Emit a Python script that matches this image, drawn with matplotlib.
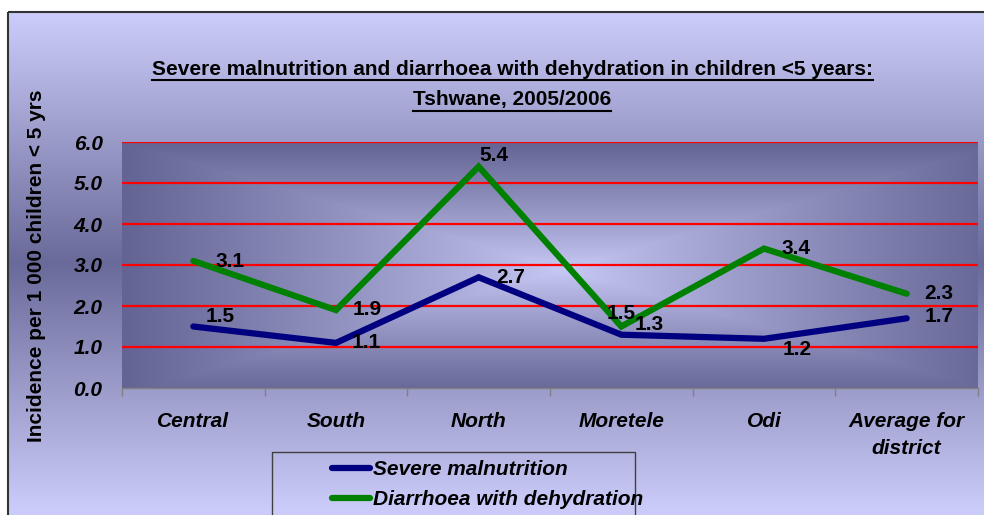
import numpy as np
import matplotlib
matplotlib.use("Agg")
import matplotlib.pyplot as plt
from matplotlib.patches import Rectangle
from matplotlib.lines import Line2D

plt.rcParams['font.family'] = ['Liberation Sans', 'DejaVu Sans']

categories = ["Central", "South", "North", "Moretele", "Odi", "Average for\ndistrict"]
malnutrition = [1.5, 1.1, 2.7, 1.3, 1.2, 1.7]
diarrhoea = [3.1, 1.9, 5.4, 1.5, 3.4, 2.3]
yticks = [0.0, 1.0, 2.0, 3.0, 4.0, 5.0, 6.0]

# label offsets in pixels (dx, dy) relative to each point
mal_offsets = [(27, 10), (30, 0), (32, 0), (28, 10), (33, -11), (32, 2)]
dia_offsets = [(37, -1), (31, 1), (15, 11), (0, 13), (32, 0), (32, 0)]

FS = 15

W, H = 984, 515
fig = plt.figure(figsize=(W / 100, H / 100), dpi=100)

# figure background: white outside the frame, vertical gradient inside
bg = fig.add_axes([0, 0, 1, 1], zorder=-5)
bg.set_xlim(0, W)
bg.set_ylim(H, 0)
bg.axis('off')
light = np.array([0xcb, 0xcb, 0xf9]) / 255
dark = np.array([0x6a, 0x6a, 0x9a]) / 255
ys = np.arange(H)
t = np.clip(np.abs(ys - 262) / 245.0, 0, 1)
col = dark[None, :] + (light - dark)[None, :] * t[:, None]
img = np.ones((H, W, 3))
img[:, :, :] = col[:, None, :]
img[:12, :, :] = 1.0
img[:, :8, :] = 1.0
bg.imshow(img, extent=(0, W, H, 0), aspect='auto', interpolation='bilinear')
bg.add_patch(Rectangle((8, 12), W, H, fill=False, edgecolor='#333333', linewidth=1.5))

# legend box
bg.add_patch(Rectangle((272, 452), 363, 80, fill=False, edgecolor='#404040', linewidth=1))

ax = fig.add_axes([122 / W, (H - 388) / H, 856 / W, 246 / H])
x = np.arange(len(categories))
ax.set_xlim(-0.5, len(categories) - 0.5)
ax.set_ylim(0, 6)

# plot area gradient: light centre, darker edges
gx, gy = np.meshgrid(np.linspace(-0.5, 5.5, 400), np.linspace(6, 0, 200))
d = np.maximum(np.abs(gx - 2.6) / 3.1, np.abs(gy - 2.9) / 3.1)
d = np.clip(d, 0, 1) ** 0.9
pa_light = np.array([0xc9, 0xc9, 0xf6]) / 255
pa_dark = np.array([0x64, 0x64, 0x94]) / 255
pa = pa_light[None, None, :] + (pa_dark - pa_light)[None, None, :] * d[:, :, None]
ax.imshow(pa, extent=(-0.5, 5.5, 0, 6), aspect='auto', zorder=0, interpolation='bilinear')

for v in yticks[1:]:
    ax.axhline(v, color='#ff0000', linewidth=1.6, zorder=1)

ax.plot(x, malnutrition, color='#000080', linewidth=4.5, solid_capstyle='round',
        solid_joinstyle='miter', zorder=3, label='Severe malnutrition')
ax.plot(x, diarrhoea, color='#008000', linewidth=4.5, solid_capstyle='round',
        solid_joinstyle='miter', zorder=3, label='Diarrhoea with dehydration')

for xi, v, (dx, dy) in zip(x, malnutrition, mal_offsets):
    ax.annotate(f"{v:.1f}", (xi, v), xytext=(dx, dy), textcoords='offset pixels',
                ha='center', va='center', fontsize=FS, fontweight='bold', zorder=4)
for xi, v, (dx, dy) in zip(x, diarrhoea, dia_offsets):
    ax.annotate(f"{v:.1f}", (xi, v), xytext=(dx, dy), textcoords='offset pixels',
                ha='center', va='center', fontsize=FS, fontweight='bold', zorder=4)

for s in ['top', 'right', 'left']:
    ax.spines[s].set_visible(False)
ax.spines['bottom'].set_color('#808080')
ax.spines['bottom'].set_linewidth(1)

ax.set_yticks(yticks)
ax.set_yticklabels([f"{v:.1f}" for v in yticks], fontsize=FS, fontweight='bold', style='italic')
ax.tick_params(axis='y', length=0, pad=14)
ax.set_xticks(x)
ax.set_xticklabels(categories, fontsize=FS, fontweight='bold', style='italic', linespacing=1.5)
ax.tick_params(axis='x', length=0, pad=17.5)
ax.set_xticks(np.arange(-0.5, len(categories)), minor=True)
ax.tick_params(axis='x', which='minor', length=6, color='#808080', width=1)

fig.text(37 / W, 1 - 266 / H, "Incidence per 1 000 children < 5 yrs", rotation=90,
         ha='center', va='center', fontsize=FS, fontweight='bold')

t1 = fig.text(512 / W, 1 - 70 / H,
              "Severe malnutrition and diarrhoea with dehydration in children <5 years:",
              ha='center', va='center', fontsize=FS, fontweight='bold')
t2 = fig.text(512 / W, 1 - 100 / H, "Tshwane, 2005/2006",
              ha='center', va='center', fontsize=FS, fontweight='bold')

leg = ax.legend(loc='upper left', bbox_to_anchor=(322 / W, 1 - 450 / H),
                bbox_transform=fig.transFigure, frameon=False, handlelength=1.8,
                handletextpad=0.15, labelspacing=0.5, borderpad=0,
                prop={'size': FS, 'weight': 'bold', 'style': 'italic'})

fig.canvas.draw()
r = fig.canvas.get_renderer()
for tt in (t1, t2):
    bb = tt.get_window_extent(renderer=r)
    yl = bb.y0 - 1
    fig.add_artist(Line2D([bb.x0 / W, bb.x1 / W], [yl / H, yl / H], color='black',
                          linewidth=1.5, transform=fig.transFigure))

fig.savefig("out.png", dpi=100)
